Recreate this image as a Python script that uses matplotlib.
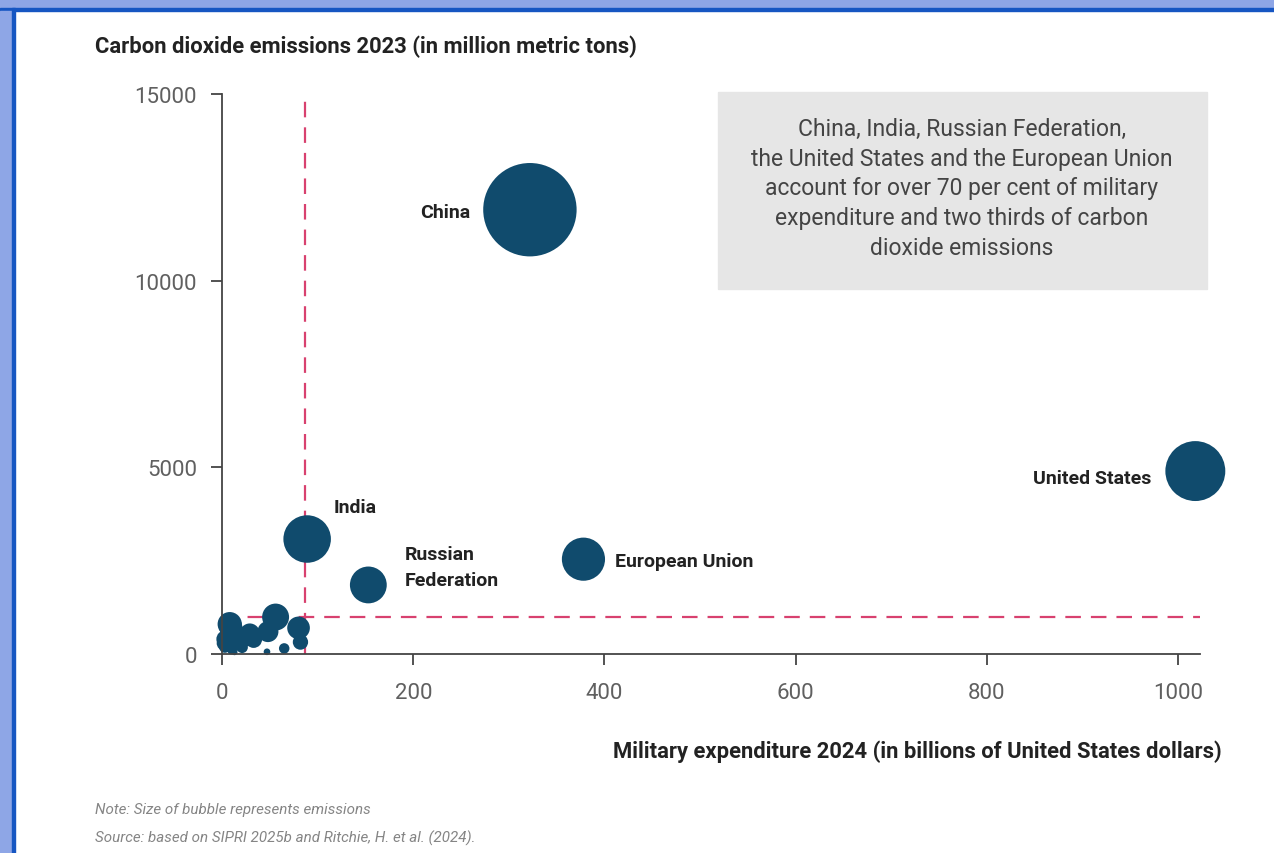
import matplotlib
matplotlib.use('Agg')
import matplotlib.pyplot as plt
from matplotlib.patches import Rectangle

plt.rcParams['font.family'] = ['Roboto', 'DejaVu Sans']

# military expenditure 2024 (bn USD) and CO2 emissions 2023 (Mt)
labelled = ['China', 'United States', 'India', 'Russian\nFederation', 'European Union']
labelled_spend = [322, 1018, 89, 153, 378]
labelled_emis = [11900, 4900, 3080, 1850, 2540]

others = ['Iran', 'Indonesia', 'Brazil', 'Mexico', 'South Africa', 'Canada',
          'Turkey', 'Australia', 'South Korea', 'Japan', 'Saudi Arabia',
          'United Kingdom', 'Israel', 'Ukraine', 'Kazakhstan', 'Vietnam',
          'Thailand', 'Taiwan', 'Pakistan', 'Egypt', 'Malaysia', 'Argentina',
          'Algeria', 'Singapore', 'Colombia']
others_spend = [8, 9, 21, 16, 3, 29, 25, 33, 48, 56, 80, 82, 47, 65, 2, 8,
                6, 17, 10, 3, 4, 3, 21, 13, 10]
others_emis = [800, 730, 480, 480, 400, 550, 450, 390, 600, 990, 700, 320,
               60, 150, 290, 330, 280, 280, 200, 250, 270, 190, 180, 50, 100]

threshold_spend = 87
threshold_emis = 1000

x_ticks = [0, 200, 400, 600, 800, 1000]
y_ticks = [0, 5000, 10000, 15000]

BUBBLE = '#104B6D'
DASH = '#D8416F'
SIZE_K = 0.38

fig = plt.figure(figsize=(12.74, 8.54), dpi=100)
ax = fig.add_axes([0.1743, 0.233, 0.7677, 0.6558])

ax.plot([threshold_spend, threshold_spend], [0, 15000], color=DASH, lw=1.6,
        ls=(0, (7, 4.5)), zorder=1)
ax.plot([0, 1023], [threshold_emis, threshold_emis], color=DASH, lw=1.6,
        ls=(0, (7, 4.5)), zorder=1)

ax.scatter(others_spend, others_emis, s=[e * SIZE_K for e in others_emis],
           color=BUBBLE, linewidths=0, zorder=2, clip_on=False)
ax.scatter(labelled_spend, labelled_emis,
           s=[e * SIZE_K for e in labelled_emis],
           color=BUBBLE, linewidths=0, zorder=2, clip_on=False)

# label offsets in points, relative to bubble centre
offsets = [(-43, -2, 'right'), (-32, -5, 'right'), (19, 23, 'left'),
           (26, 13, 'left'), (23, -1, 'left')]
for name, xv, yv, (dx, dy, ha) in zip(labelled, labelled_spend,
                                      labelled_emis, offsets):
    ax.annotate(name, (xv, yv), xytext=(dx, dy), textcoords='offset points',
                ha=ha, va='center', fontsize=14, fontweight='bold',
                color='#222222', linespacing=1.6)

ax.set_xlim(0, 1023)
ax.set_ylim(0, 15000)
ax.set_xticks(x_ticks)
ax.set_yticks(y_ticks)
for side in ['top', 'right']:
    ax.spines[side].set_visible(False)
for side in ['left', 'bottom']:
    ax.spines[side].set_color('#444444')
    ax.spines[side].set_linewidth(1.3)
ax.tick_params(axis='both', length=8, width=1.3, color='#444444',
               labelcolor='#606060', labelsize=16)
ax.tick_params(axis='x', pad=12)
ax.tick_params(axis='y', pad=10)

fig.text(0.0746, 0.945, 'Carbon dioxide emissions 2023 (in million metric tons)',
         fontsize=15.8, fontweight='bold', color='#222222', va='center')
fig.text(0.959, 0.1194,
         'Military expenditure 2024 (in billions of United States dollars)',
         fontsize=15.8, fontweight='bold', color='#222222', va='center',
         ha='right')

fig.patches.append(Rectangle((0.5636, 0.6604), 0.3838, 0.2307,
                             transform=fig.transFigure, color='#E6E6E6',
                             zorder=0))
fig.text(0.755, 0.7787,
         'China, India, Russian Federation,\n'
         'the United States and the European Union\n'
         'account for over 70 per cent of military\n'
         'expenditure and two thirds of carbon\n'
         'dioxide emissions',
         ha='center', va='center', fontsize=16.5, color='#444444',
         linespacing=1.38)

fig.text(0.0746, 0.0515, 'Note: Size of bubble represents emissions',
         fontsize=10.9, style='italic', color='#858585', va='center')
fig.text(0.0746, 0.0187,
         'Source: based on SIPRI 2025b and Ritchie, H. et al. (2024).',
         fontsize=10.9, style='italic', color='#858585', va='center')

# blue frame along top and left edges
fig.patches.append(Rectangle((0, 1 - 9 / 854), 1, 9 / 854,
                             transform=fig.transFigure, color='#8EA6E6'))
fig.patches.append(Rectangle((0, 1 - 12 / 854), 1, 3 / 854,
                             transform=fig.transFigure, color='#1656C2'))
fig.patches.append(Rectangle((0, 0), 12 / 1274, 1 - 12 / 854,
                             transform=fig.transFigure, color='#8EA6E6'))
fig.patches.append(Rectangle((12 / 1274, 0), 3 / 1274, 1 - 9 / 854,
                             transform=fig.transFigure, color='#1656C2'))

fig.savefig('out.png', dpi=100)
